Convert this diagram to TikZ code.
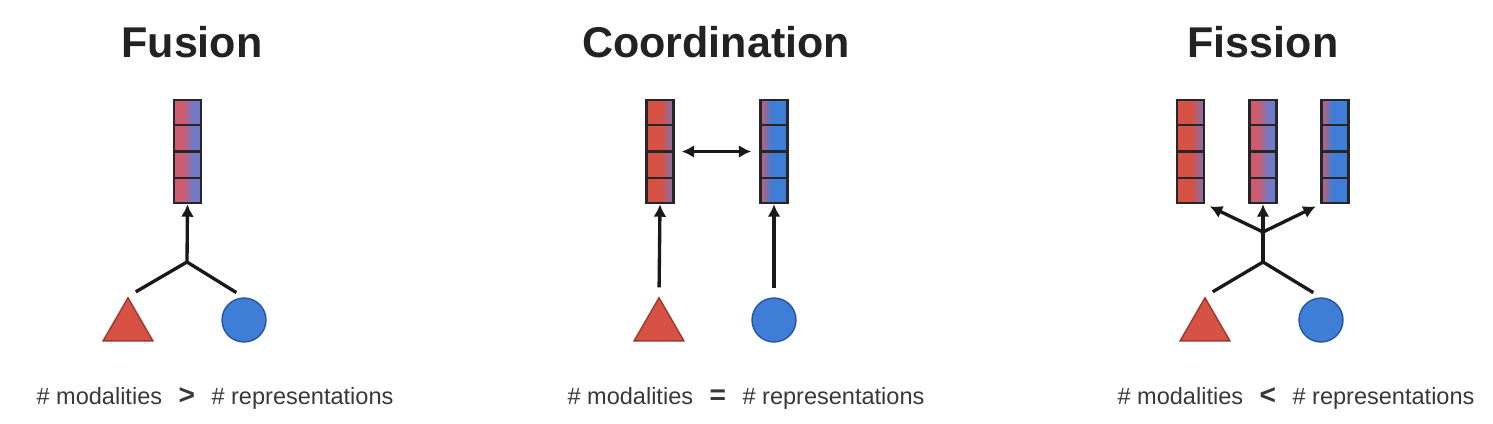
\documentclass[tikz,border=0pt]{standalone}
\usepackage{fontspec}
\setmainfont{Liberation Sans}
\usepackage{tikz}
\usetikzlibrary{positioning,arrows.meta,shapes.geometric,calc}

\definecolor{modred}{RGB}{214,82,68}
\definecolor{modreddk}{RGB}{160,55,45}
\definecolor{modblue}{RGB}{62,126,214}
\definecolor{modbluedk}{RGB}{40,85,160}
\definecolor{mixred}{RGB}{205,92,112}
\definecolor{mixblue}{RGB}{112,122,200}
\definecolor{txtdk}{RGB}{34,34,34}

% horizontal shadings for the representation vectors
\pgfdeclarehorizontalshading{mixshade}{100bp}{color(0bp)=(mixred); color(25bp)=(mixred);
  color(42bp)=(mixred); color(60bp)=(mixblue); color(75bp)=(mixblue); color(100bp)=(mixblue)}
\pgfdeclarehorizontalshading{redshade}{100bp}{color(0bp)=(modred); color(25bp)=(modred);
  color(52bp)=(modred); color(75bp)=(mixblue!85!modred); color(100bp)=(mixblue!85!modred)}
\pgfdeclarehorizontalshading{blueshade}{100bp}{color(0bp)=(mixred); color(25bp)=(mixred);
  color(45bp)=(modblue); color(75bp)=(modblue); color(100bp)=(modblue)}

\tikzset{
  vec/.style   = {draw=black!85, line width=1.4pt, minimum width=0.54cm,
                  minimum height=2.06cm, inner sep=0pt},
  tri/.style   = {regular polygon, regular polygon sides=3, minimum size=1.15cm,
                  inner sep=0pt, fill=modred, draw=modreddk, line width=0.8pt},
  dot/.style   = {circle, minimum size=0.88cm, inner sep=0pt, fill=modblue,
                  draw=modbluedk, line width=0.8pt},
  ln/.style    = {line width=1.9pt, black!90},
  ar/.style    = {ln, -{Latex[length=2.5mm,width=2.6mm]}},
  arr/.style   = {ln, {Latex[length=2.5mm,width=2.6mm]}-{Latex[length=2.5mm,width=2.6mm]}},
  ttl/.style   = {font=\fontsize{24.5}{28}\selectfont\bfseries, text=txtdk},
  capt/.style  = {font=\fontsize{13.4}{16}\selectfont, text=txtdk!90},
}
\newcommand\relsym[1]{{\fontsize{16}{16}\selectfont\bfseries #1}}

\newcommand\cells[1]{%
  \foreach \k in {1,2,3}{\draw[black!85, line width=1.2pt]
    ($(#1.south west)!\k/4!(#1.north west)$) -- ($(#1.south east)!\k/4!(#1.north east)$);}}

\begin{document}
\begin{tikzpicture}[x=0.02cm, y=-0.02cm]
\useasboundingbox (0,0) rectangle (1493,423);

% ===== FUSION =====
\node[ttl] (fustitle) at (192,42) {Fusion};
\node[vec, shading=mixshade] (fusvec) at (187.5,151.5) {};
\cells{fusvec}
\node[tri] (fustri) at (128,326.5) {};
\node[dot] (fusdot) at (244,320) {};
\coordinate (fusjoin) at (187,262);
\draw[ln, shorten <=0.18cm] (fustri.corner 1) -- (fusjoin);
\draw[ln, shorten <=0.18cm] (fusdot.north) -- (fusjoin);
\draw[ar] (fusjoin) -- (fusvec.south);
\node[capt] (fuscap) at (215,398) {\# modalities\hspace{0.7em}\relsym{>}\hspace{0.7em}\# representations};

% ===== COORDINATION =====
\node[ttl] (cootitle) at (716,42) {Coordination};
\node[vec, shading=redshade] (cooleft) at (660,151.5) {};
\node[vec, shading=blueshade] (cooright) at (774,151.5) {};
\cells{cooleft}
\cells{cooright}
\node[tri] (cootri) at (659,326.5) {};
\node[dot] (coodot) at (774,320) {};
\draw[ar, shorten <=0.18cm] (cootri.corner 1) -- (cooleft.south);
\draw[ar, shorten <=0.18cm] (coodot.north) -- (cooright.south);
\draw[arr, shorten <=0.14cm, shorten >=0.16cm] (cooleft.east) -- (cooright.west);
\node[capt] (coocap) at (746,398) {\# modalities\hspace{0.7em}\relsym{=}\hspace{0.7em}\# representations};

% ===== FISSION =====
\node[ttl] (fistitle) at (1263,42) {Fission};
\node[vec, shading=redshade] (fisleft) at (1190.5,151.5) {};
\node[vec, shading=mixshade] (fismid) at (1263,151.5) {};
\node[vec, shading=blueshade] (fisright) at (1335,151.5) {};
\foreach \n in {fisleft,fismid,fisright}{\cells{\n}}
\node[tri] (fistri) at (1205,326.5) {};
\node[dot] (fisdot) at (1321,320) {};
\coordinate (fisjoin) at (1263,262);
\coordinate (fissplit) at (1263,232);
\draw[ln, shorten <=0.18cm] (fistri.corner 1) -- (fisjoin);
\draw[ln, shorten <=0.18cm] (fisdot.north) -- (fisjoin);
\draw[ln] (fisjoin) -- (fissplit);
\draw[ar, shorten >=0.1cm] (fissplit) -- (fisleft.south east);
\draw[ar] (fissplit) -- (fismid.south);
\draw[ar, shorten >=0.1cm] (fissplit) -- (fisright.south west);
\node[capt] (fiscap) at (1296,398) {\# modalities\hspace{0.7em}\relsym{<}\hspace{0.7em}\# representations};
\end{tikzpicture}
\end{document}
